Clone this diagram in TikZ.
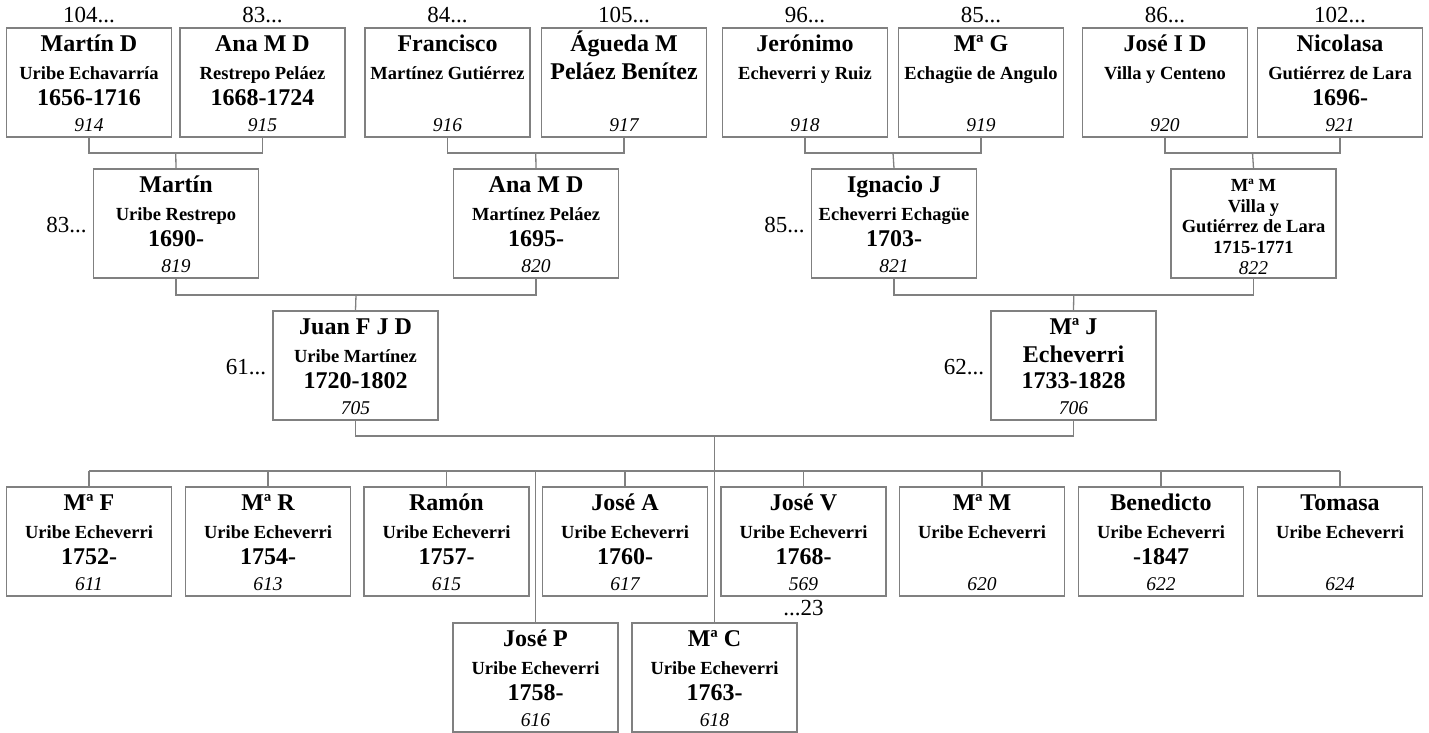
\documentclass[tikz,border=0pt]{standalone}
\usepackage{fontspec}
\setmainfont{Liberation Serif}
\definecolor{lineg}{RGB}{128,128,128}
\newcommand\fa{\fontsize{24}{26}\selectfont\bfseries}
\newcommand\fb{\fontsize{18.5}{20}\selectfont\bfseries}
\newcommand\fnum{\fontsize{19.5}{21}\selectfont\itshape}
\newcommand\flab{\fontsize{23}{25}\selectfont}
\tikzset{
  pbox/.style={draw=lineg, line width=1.3pt, minimum width=165pt, minimum height=109pt, inner sep=0pt},
  txt/.style={anchor=base, inner sep=0pt, text=black},
  lbl/.style={inner sep=0pt, text=black, font=\flab},
  conn/.style={draw=lineg, line width=1.3pt},
}
% id, cx, top, name, surname (with font), dates, number
\newcommand\pers[7]{%
  \node[pbox] (#1) at (#2,#3+54.5) {};
  \node[txt] (#1n) at ([yshift=-24.5pt]#1.north) {\fa #4};
  \node[txt] (#1s) at ([yshift=-52.5pt]#1.north) {#5};
  \node[txt] (#1d) at ([yshift=-78pt]#1.north) {\fa #6};
  \node[txt] (#1k) at ([yshift=-104.5pt]#1.north) {\fnum #7};
}
\newcommand\toplab[2]{\node[lbl, anchor=base] (#1t) at ([yshift=5pt]#1.north) {#2};}
\newcommand\leftlab[2]{\node[lbl, anchor=base east] (#1l) at ([xshift=-6pt,yshift=-9pt]#1.west) {#2};}
\begin{document}
\begin{tikzpicture}[x=1pt,y=-1pt]
\useasboundingbox (0,0) rectangle (1429,733);
% generation 1
\pers{p914}{89}{28}{Martín D}{\fb Uribe Echavarría}{1656-1716}{914}
\pers{p915}{262.5}{28}{Ana M D}{\fb Restrepo Peláez}{1668-1724}{915}
\pers{p916}{447.5}{28}{Francisco}{\fb Martínez Gutiérrez}{}{916}
\pers{p917}{624}{28}{Águeda M}{\fa Peláez Benítez}{}{917}
\pers{p918}{805}{28}{Jerónimo}{\fb Echeverri y Ruiz}{}{918}
\pers{p919}{981}{28}{Mª G}{\fb Echagüe de Angulo}{}{919}
\pers{p920}{1165}{28}{José I D}{\fb Villa y Centeno}{}{920}
\pers{p921}{1340}{28}{Nicolasa}{\fb Gutiérrez de Lara}{1696-}{921}
\toplab{p914}{104...}
\toplab{p915}{83...}
\toplab{p916}{84...}
\toplab{p917}{105...}
\toplab{p918}{96...}
\toplab{p919}{85...}
\toplab{p920}{86...}
\toplab{p921}{102...}
% generation 2
\pers{p819}{176}{169}{Martín}{\fb Uribe Restrepo}{1690-}{819}
\pers{p820}{536}{169}{Ana M D}{\fb Martínez Peláez}{1695-}{820}
\pers{p821}{894}{169}{Ignacio J}{\fb Echeverri Echagüe}{1703-}{821}
\node[pbox] (p822) at (1253.5,223.5) {};
\node[txt] (p822n) at ([yshift=-23pt]p822.north) {\fb Mª M};
\node[txt] (p822a) at ([yshift=-44pt]p822.north) {\fb Villa y};
\node[txt] (p822s) at ([yshift=-64pt]p822.north) {\fb Gutiérrez de Lara};
\node[txt] (p822d) at ([yshift=-85pt]p822.north) {\fb 1715-1771};
\node[txt] (p822k) at ([yshift=-106pt]p822.north) {\fnum 822};
\leftlab{p819}{83...}
\leftlab{p821}{85...}
% generation 3
\pers{p705}{355.5}{311}{Juan F J D}{\fb Uribe Martínez}{1720-1802}{705}
\pers{p706}{1073.5}{311}{Mª J}{\fa Echeverri}{1733-1828}{706}
\leftlab{p705}{61...}
\leftlab{p706}{62...}
% children
\pers{p611}{89}{487}{Mª F}{\fb Uribe Echeverri}{1752-}{611}
\pers{p613}{268}{487}{Mª R}{\fb Uribe Echeverri}{1754-}{613}
\pers{p615}{446.5}{487}{Ramón}{\fb Uribe Echeverri}{1757-}{615}
\pers{p617}{625}{487}{José A}{\fb Uribe Echeverri}{1760-}{617}
\pers{p569}{803.5}{487}{José V}{\fb Uribe Echeverri}{1768-}{569}
\pers{p620}{982}{487}{Mª M}{\fb Uribe Echeverri}{}{620}
\pers{p622}{1161}{487}{Benedicto}{\fb Uribe Echeverri}{-1847}{622}
\pers{p624}{1340}{487}{Tomasa}{\fb Uribe Echeverri}{}{624}
\pers{p616}{535.5}{623}{José P}{\fb Uribe Echeverri}{1758-}{616}
\pers{p618}{714.5}{623}{Mª C}{\fb Uribe Echeverri}{1763-}{618}
\node[lbl, anchor=base] (p569b) at ([yshift=-19pt]p569.south) {...23};
% connectors
\coordinate (m1) at (175.75,153);
\coordinate (m2) at (535.75,153);
\coordinate (m3) at (893,153);
\coordinate (m4) at (1252.5,153);
\draw[conn] (p914.south) |- (m1) -| (p915.south);
\draw[conn] (m1) -- (p819.north);
\draw[conn] (p916.south) |- (m2) -| (p917.south);
\draw[conn] (m2) -- (p820.north);
\draw[conn] (p918.south) |- (m3) -| (p919.south);
\draw[conn] (m3) -- (p821.north);
\draw[conn] (p920.south) |- (m4) -| (p921.south);
\draw[conn] (m4) -- (p822.north);
\coordinate (m5) at (356,295);
\coordinate (m6) at (1073.75,295);
\draw[conn] (p819.south) |- (m5) -| (p820.south);
\draw[conn] (m5) -- (p705.north);
\draw[conn] (p821.south) |- (m6) -| (p822.south);
\draw[conn] (m6) -- (p706.north);
\coordinate (m7) at (714.5,436);
\draw[conn] (p705.south) |- (m7) -| (p706.south);
\draw[conn] (m7) -- (p618.north);
\coordinate (bl) at (89,471);
\coordinate (br) at (1340,471);
\draw[conn] (bl) -- (br);
\foreach \c in {p611,p613,p615,p617,p569,p620,p622,p624,p616}
  \draw[conn] (\c.north) -- (\c.north |- bl);
\end{tikzpicture}
\end{document}
